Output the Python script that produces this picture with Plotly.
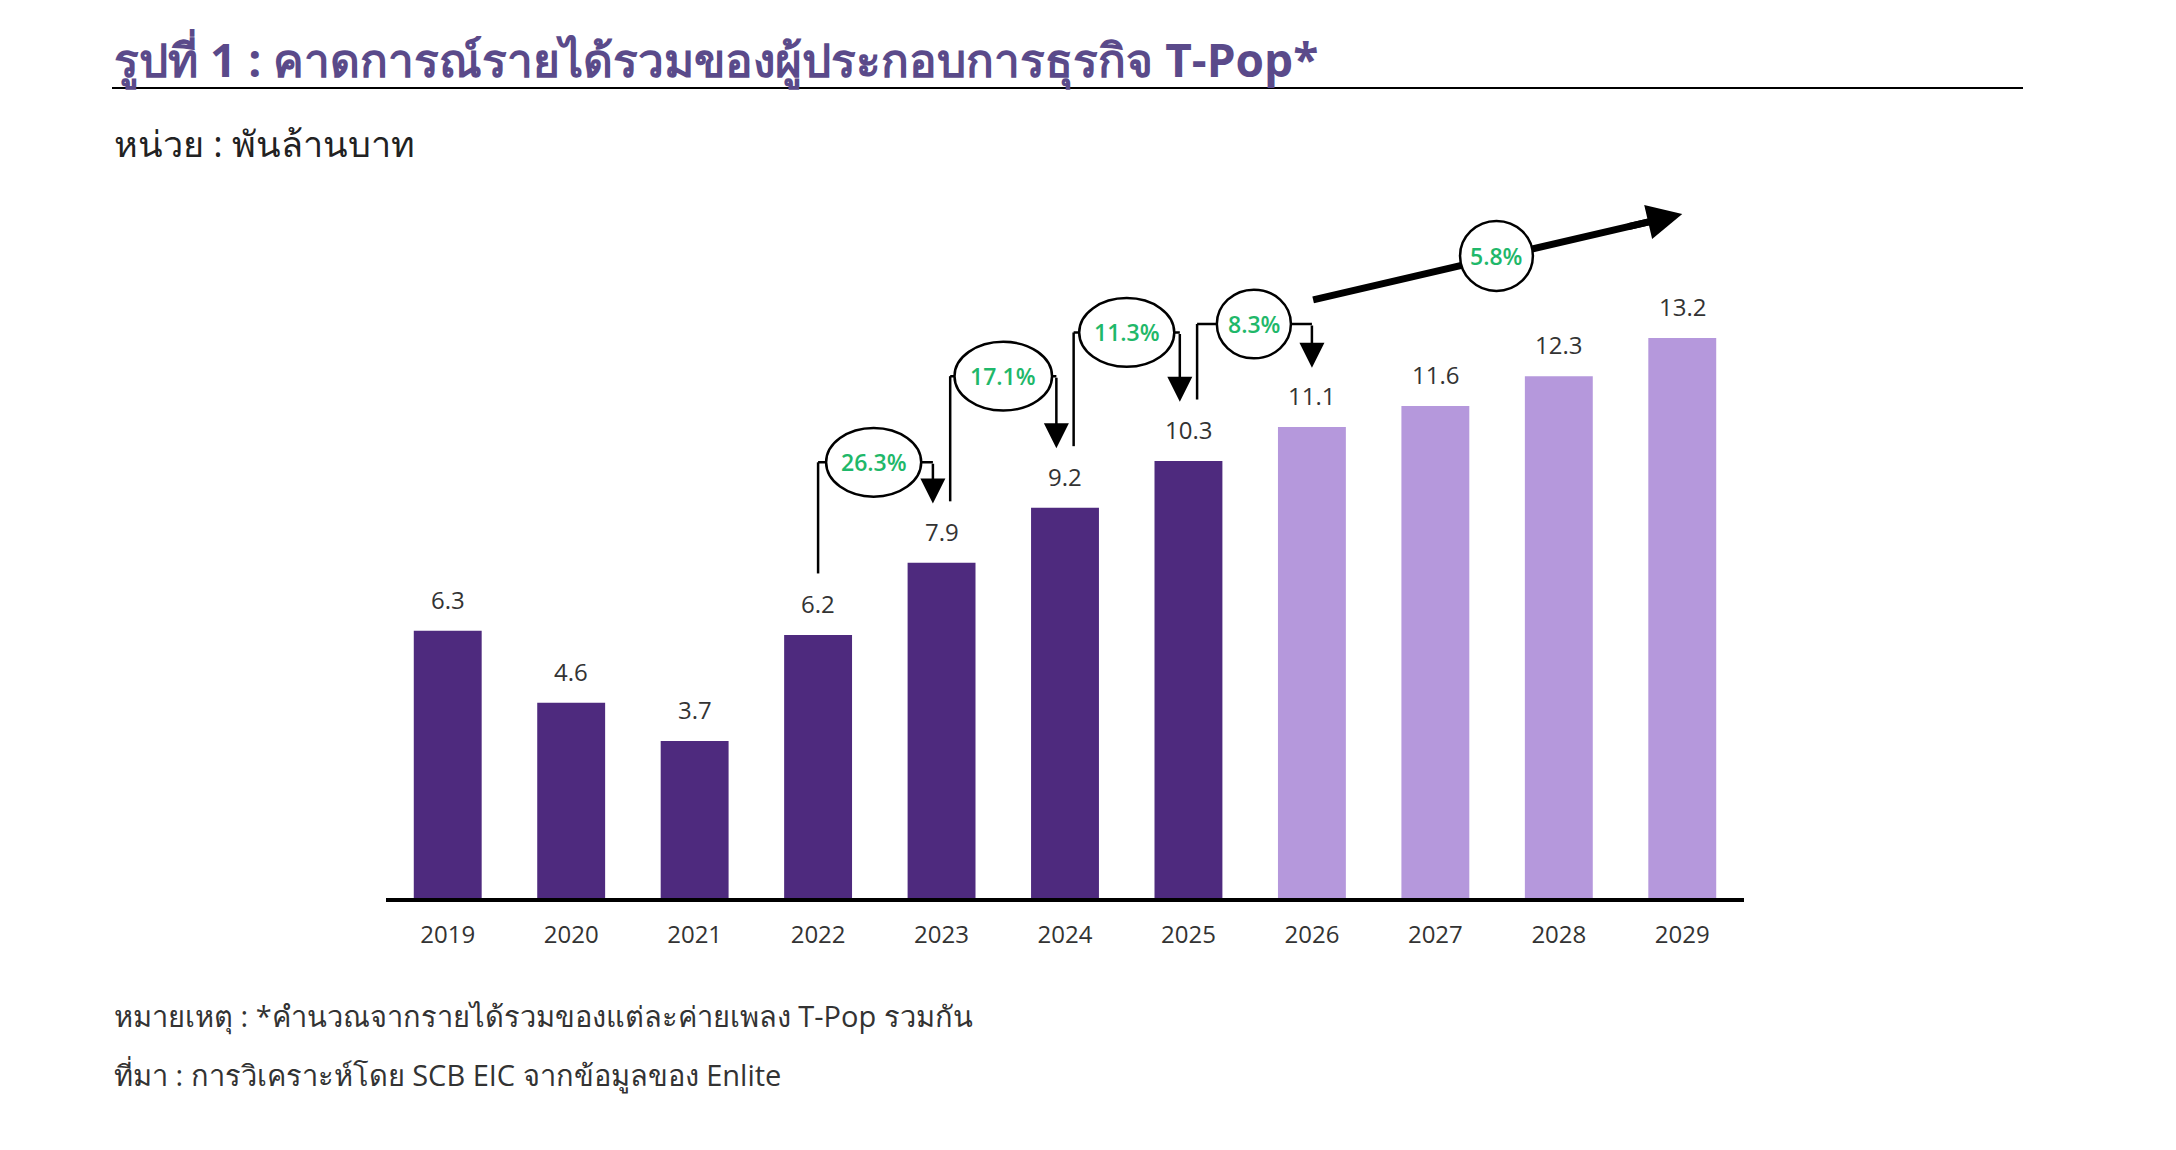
import plotly.graph_objects as go

years = ["2019", "2020", "2021", "2022", "2023", "2024", "2025", "2026", "2027", "2028", "2029"]
revenue = [6.3, 4.6, 3.7, 6.2, 7.9, 9.2, 10.3, 11.1, 11.6, 12.3, 13.2]
is_forecast = [False] * 7 + [True] * 4

growth_from = [3, 4, 5, 6]          # index of start year
growth_labels = ["26.3%", "17.1%", "11.3%", "8.3%"]
cagr_label = "5.8%"

title = "รูปที่ 1 : คาดการณ์รายได้รวมของผู้ประกอบการธุรกิจ T-Pop*"
unit = "หน่วย : พันล้านบาท"
note = "หมายเหตุ : *คำนวณจากรายได้รวมของแต่ละค่ายเพลง T-Pop รวมกัน"
source = "ที่มา : การวิเคราะห์โดย SCB EIC จากข้อมูลของ Enlite"

DARK = "#4e2a7e"
LIGHT = "#b598dc"
GREEN = "#1fb86a"
FONT = "Open Sans"

W, H = 2176, 1150
L, R, T, B = 378, 440, 190, 260
PW, PH = W - L - R, H - T - B
OFF = 8  # page margin of the html body


def px(x):
    return (x - OFF - L) / PW


def py(y):
    return (H - B - (y - OFF)) / PH


fig = go.Figure()
fig.add_bar(
    x=years, y=revenue,
    marker=dict(color=[LIGHT if f else DARK for f in is_forecast], line=dict(width=0)),
    hoverinfo="x+y",
)

ann = []
shapes = []

# value labels
for i, v in enumerate(revenue):
    ann.append(dict(x=i, y=v, xref="x", yref="y", text=f"{v:.1f}", showarrow=False,
                    yanchor="bottom", yshift=13,
                    font=dict(size=24, color="#333333", family=FONT)))

# year-on-year growth connectors
levels = [10.27, 12.3, 13.33, 13.53]
bubble_x = [0.45, 0.5, 0.5, 0.53]
bubble_w = [0.77, 0.79, 0.77, 0.6]
bubble_h = 1.62
for k, i in enumerate(growth_from):
    lx = i + (0.0 if k == 0 else 0.07)
    rx = i + (0.93 if k < 3 else 1.0)
    y0 = revenue[i] + 1.45
    y1 = revenue[i + 1] + 1.4
    lv = levels[k]
    shapes.append(dict(type="line", xref="x", yref="y", x0=lx, x1=lx, y0=y0, y1=lv,
                       line=dict(color="black", width=2.5)))
    shapes.append(dict(type="line", xref="x", yref="y", x0=lx, x1=rx, y0=lv, y1=lv,
                       line=dict(color="black", width=2.5)))
    cx = i + bubble_x[k]
    shapes.append(dict(type="circle", xref="x", yref="y",
                       x0=cx - bubble_w[k] / 2, x1=cx + bubble_w[k] / 2,
                       y0=lv - bubble_h / 2, y1=lv + bubble_h / 2,
                       fillcolor="white", line=dict(color="black", width=2.5)))
    ann.append(dict(x=rx, y=y1, ax=rx, ay=lv, xref="x", yref="y", axref="x", ayref="y",
                    text="", showarrow=True, arrowhead=2, arrowsize=2.0, arrowwidth=2.5,
                    arrowcolor="black"))
    ann.append(dict(x=cx, y=lv, text=growth_labels[k], showarrow=False,
                    font=dict(size=23, color=GREEN, family=FONT, weight=600)))

# CAGR arrow 2026 -> 2029 (shaft as a shape so the bubble sits on top)
x_a, y_a, x_b, y_b = 7.01, 14.1, 10.0, 16.12
shapes.append(dict(type="line", xref="x", yref="y", x0=x_a, y0=y_a,
                   x1=x_a + 0.93 * (x_b - x_a), y1=y_a + 0.93 * (y_b - y_a),
                   line=dict(color="black", width=7)))
ann.append(dict(x=x_b, y=y_b, ax=x_a + 0.85 * (x_b - x_a), ay=y_a + 0.85 * (y_b - y_a),
                xref="x", yref="y", axref="x", ayref="y",
                text="", showarrow=True, arrowhead=2, arrowsize=1.0, arrowwidth=7,
                arrowcolor="black"))
shapes.append(dict(type="circle", xref="x", yref="y", x0=8.2, x1=8.79, y0=14.31, y1=15.96,
                   fillcolor="white", line=dict(color="black", width=2.5)))
ann.append(dict(x=8.495, y=15.13, text=cagr_label, showarrow=False,
                font=dict(size=23, color=GREEN, family=FONT, weight=600)))

# header / footer text
ann.append(dict(x=px(112), y=py(59), xref="paper", yref="paper", text=title, showarrow=False,
                xanchor="left", yanchor="middle",
                font=dict(size=46, color="#5a4a8a", family=FONT, weight="bold")))
shapes.append(dict(type="line", xref="paper", yref="paper", x0=px(112), x1=px(2023),
                   y0=py(88), y1=py(88), line=dict(color="black", width=2)))
ann.append(dict(x=px(112), y=py(144), xref="paper", yref="paper", text=unit, showarrow=False,
                xanchor="left", yanchor="middle", font=dict(size=36, color="#222222", family=FONT)))
ann.append(dict(x=px(112), y=py(1015), xref="paper", yref="paper", text=note, showarrow=False,
                xanchor="left", yanchor="middle", font=dict(size=29, color="#333333", family=FONT)))
ann.append(dict(x=px(112), y=py(1074), xref="paper", yref="paper", text=source, showarrow=False,
                xanchor="left", yanchor="middle", font=dict(size=29, color="#333333", family=FONT)))

fig.update_layout(
    width=W, height=H,
    margin=dict(l=L, r=R, t=T, b=B),
    paper_bgcolor="white", plot_bgcolor="white",
    showlegend=False, bargap=0.45,
    annotations=ann, shapes=shapes,
    font=dict(family=FONT),
)
fig.update_xaxes(type="category", range=[-0.5, 10.5], showline=True, linecolor="black",
                 linewidth=4, showgrid=False, ticks="", ticklabelstandoff=12,
                 tickfont=dict(size=24, color="#333333", family=FONT))
fig.update_yaxes(range=[0, 16.5], visible=False, showgrid=False)

fig.write_html("out.html")
